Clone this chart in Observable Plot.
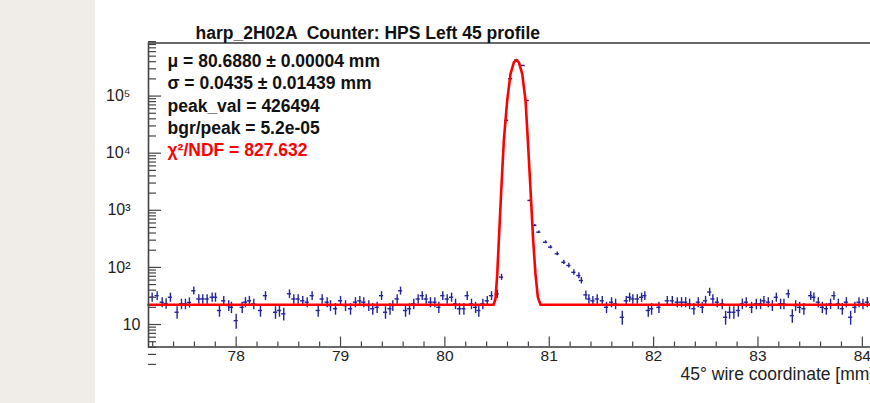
<!DOCTYPE html>
<html><head><meta charset="utf-8">
<script src="https://cdn.jsdelivr.net/npm/d3@7"></script>
<script src="https://cdn.jsdelivr.net/npm/@observablehq/plot@0.6"></script>
<style>
html,body{margin:0;padding:0;overflow:hidden;width:870px;height:403px;}
body{background:linear-gradient(to right,#f0ece7 0,#f0ece7 95px,#ffffff 95px);}
#chart{position:absolute;left:95px;top:0;}
</style></head><body><div id="chart"></div>
<script>
// wire positions (mm) and counts
const wireX = [77.195,77.243,77.291,77.329,77.370,77.434,77.476,77.514,77.552,77.594,77.642,77.680,77.722,77.770,77.802,77.840,77.881,77.929,77.955,78.000,78.058,78.089,78.127,78.169,78.233,78.281,
78.377,78.415,78.456,78.511,78.552,78.594,78.638,78.681,78.728,78.786,78.824,78.872,78.904,78.952,79.000,79.048,79.096,79.143,79.185,79.223,79.271,79.309,79.351,79.393,79.431,
79.474,79.501,79.543,79.575,79.623,79.661,79.702,79.744,79.783,79.821,79.862,79.904,79.942,79.980,80.022,80.064,80.102,80.140,80.182,80.214,80.255,80.294,80.325,80.364,80.406,80.447,80.502,80.543,
80.591,80.629,80.687,80.751,80.789,80.816,80.862,80.900,80.965,81.013,81.077,81.140,81.188,81.236,81.284,81.308,81.351,81.380,81.418,81.460,81.508,81.549,81.597,81.636,81.700,81.738,81.770,
81.801,81.844,81.885,81.916,81.949,81.981,82.051,82.131,82.179,82.227,82.268,82.307,82.345,82.386,82.428,82.467,82.498,82.537,82.568,82.610,82.658,82.690,82.728,82.769,82.812,82.850,82.888,
82.939,82.984,83.025,83.057,83.099,83.138,83.176,83.217,83.249,83.291,83.329,83.361,83.399,83.440,83.505,83.536,83.578,83.617,83.655,83.696,83.728,83.770,83.808,83.847,83.888,83.929,83.968,84.006,84.048,
84.089,84.133,84.176,84.219];
const counts = [30,32,24.6,23.3,30,16.4,23,23,24.3,39,28,28,28,30,30,17.6,26,21.5,20,11.7,20,24.6,26,23,17.6,32,
16.4,17.6,15.4,34.5,28,28,26,24.6,32,17.6,28,24.6,21.5,18.9,26,21.5,18.9,24.6,26,24.6,21.5,18.9,20,32,16.4,
18.9,21.5,28,39,17.6,18.9,23,28,32,28,24.6,24.6,20,32,28,30,23,18.9,18.9,32,23,20,17.6,23,26,32,34.5,67.5,
37400,201000,426494,343000,83800,1486,542,414,276,226,173,123,108,82,72,59,33,28,26,28,26,20,24.6,23,13.4,26,30,
28,28,30,32,17.6,18.9,20,26,26,24.6,24.6,24.6,23,18.9,24.6,20,26,37,28,24.6,23,13.4,16.4,16.4,17.6,23,24.6,
20,23,23,26,24.6,21.5,30,23,23,34.5,14.3,21.5,20,18.9,32,30,24.6,20,18.9,23,32,23,18.9,24.6,13.4,20,24.6,23,24.6,
23,21.5,26,20];
// fitted curve, as drawn
const fitX = [77.16,80.466,80.485,80.502,80.517,80.540,80.565,80.597,80.629,80.661,80.687,80.709,80.741,80.773,80.795,80.821,80.846,80.868,80.891,80.917,84.27];
const fitY = [22.2,22.2,28,77,296,2220,16700,83700,245600,390000,426500,390000,245600,83700,16700,2220,296,77,30,22.2,22.2];

const yMajorTicks = [10, 100, 1000, 10000, 100000];
const yTickLabels = ["10", "10²", "10³", "10⁴", "10⁵"];
const xMajorTicks = [78, 79, 80, 81, 82, 83, 84];
const xTickLabels = ["78", "79", "80", "81", "82", "83", "84"];
const titleText = "harp_2H02A  Counter: HPS Left 45 profile";
const statLines = ["μ = 80.6880 ± 0.00004 mm", "σ = 0.0435 ± 0.01439 mm", "peak_val = 426494", "bgr/peak = 5.2e-05"];
const fitStat = "χ²/NDF = 827.632";
const xLabel = "45° wire coordinate [mm]";

const points = wireX.map((x, i) => ({x, y: counts[i]}));
const fit = fitX.map((x, i) => ({x, y: fitY[i]}));

const yMinor = [];
for (const p of [1, 10, 100, 1000, 10000, 100000]) for (let k = 2; k <= 9; k++) yMinor.push(k * p);
const xMinor = d3.range(77.2, 84.27, 0.2).map(v => +v.toFixed(1)).filter(v => !xMajorTicks.includes(v));

const blue = "#23239c";
const axisCol = "#444";
const font = "'Liberation Sans', Arial, Helvetica, sans-serif";
const statStep = 22.3;

const plot = Plot.plot({
  width: 795,
  height: 403,
  marginLeft: 53,
  marginRight: 0,
  marginTop: 42.5,
  marginBottom: 56.5,
  style: {background: "white", maxWidth: "none", fontFamily: font, fontSize: "16px", color: "#222", overflow: "visible"},
  x: {domain: [77.16, 84.27]},
  y: {type: "log", domain: [4.04, 8.5e5]},
  marks: [
    Plot.ruleX(points, {x: "x", y1: d => d.y - Math.sqrt(d.y), y2: d => d.y + Math.sqrt(d.y), stroke: blue, strokeWidth: 1.4}),
    Plot.ruleY(points, {y: "y", x1: d => d.x - 0.02, x2: d => d.x + 0.02, stroke: blue, strokeWidth: 1.4}),
    Plot.line(fit, {x: "x", y: "y", stroke: "#ff0000", strokeWidth: 2.6, strokeLinejoin: "round"}),
    // y axis ticks (drawn inward by shifting outward ticks)
    Plot.axisY({ticks: yMajorTicks, tickSize: 13, dx: 13, tickFormat: () => "", stroke: axisCol, strokeWidth: 1.2, label: null}),
    Plot.axisY({ticks: yMinor, tickSize: 8, dx: 8, tickFormat: () => "", stroke: axisCol, strokeWidth: 1.2, label: null}),
    Plot.axisY({ticks: yMajorTicks.slice(1), tickSize: 0, tickPadding: 18, fontSize: 16,
      tickFormat: d => yTickLabels[yMajorTicks.indexOf(d)], fill: "#222", label: null}),
    Plot.axisY({ticks: yMajorTicks.slice(0, 1), tickSize: 0, tickPadding: 8, fontSize: 16,
      tickFormat: d => yTickLabels[yMajorTicks.indexOf(d)], fill: "#222", label: null}),
    // x axis ticks (inward)
    Plot.axisX({ticks: xMajorTicks, tickSize: 10, dy: -10, tickFormat: () => "", stroke: axisCol, strokeWidth: 1.2, label: null}),
    Plot.axisX({ticks: xMinor, tickSize: 5, dy: -5, tickFormat: () => "", stroke: axisCol, strokeWidth: 1.2, label: null}),
    Plot.axisX({ticks: xMajorTicks, tickSize: 0, tickPadding: 2.5, fontSize: 15.5,
      tickFormat: d => xTickLabels[xMajorTicks.indexOf(d)], fill: "#222", label: null}),
    Plot.frame({stroke: axisCol, strokeWidth: 1.6}),
    // title, stats box text, axis title
    Plot.text([titleText], {text: d => d, frameAnchor: "top-left", lineAnchor: "top", textAnchor: "start", dx: 47, dy: -16,
      fontWeight: "bold", fontSize: 17.5, fill: "#111"}),
    ...statLines.map((s, i) => Plot.text([s], {text: d => d, frameAnchor: "top-left", lineAnchor: "top", textAnchor: "start",
      dx: 19, dy: 11.5 + i * statStep, fontWeight: "bold", fontSize: 17.5, fill: "#111"})),
    Plot.text([fitStat], {text: d => d, frameAnchor: "top-left", lineAnchor: "top", textAnchor: "start", dx: 19, dy: 11.5 + 4 * statStep,
      fontWeight: "bold", fontSize: 17.5, fill: "#ff0000"}),
    Plot.text([xLabel], {text: d => d, frameAnchor: "bottom-left", lineAnchor: "bottom", textAnchor: "start", dx: 532, dy: 33,
      fontSize: 17.5, fill: "#222"})
  ]
});
document.getElementById("chart").appendChild(plot);
</script>
</body></html>
